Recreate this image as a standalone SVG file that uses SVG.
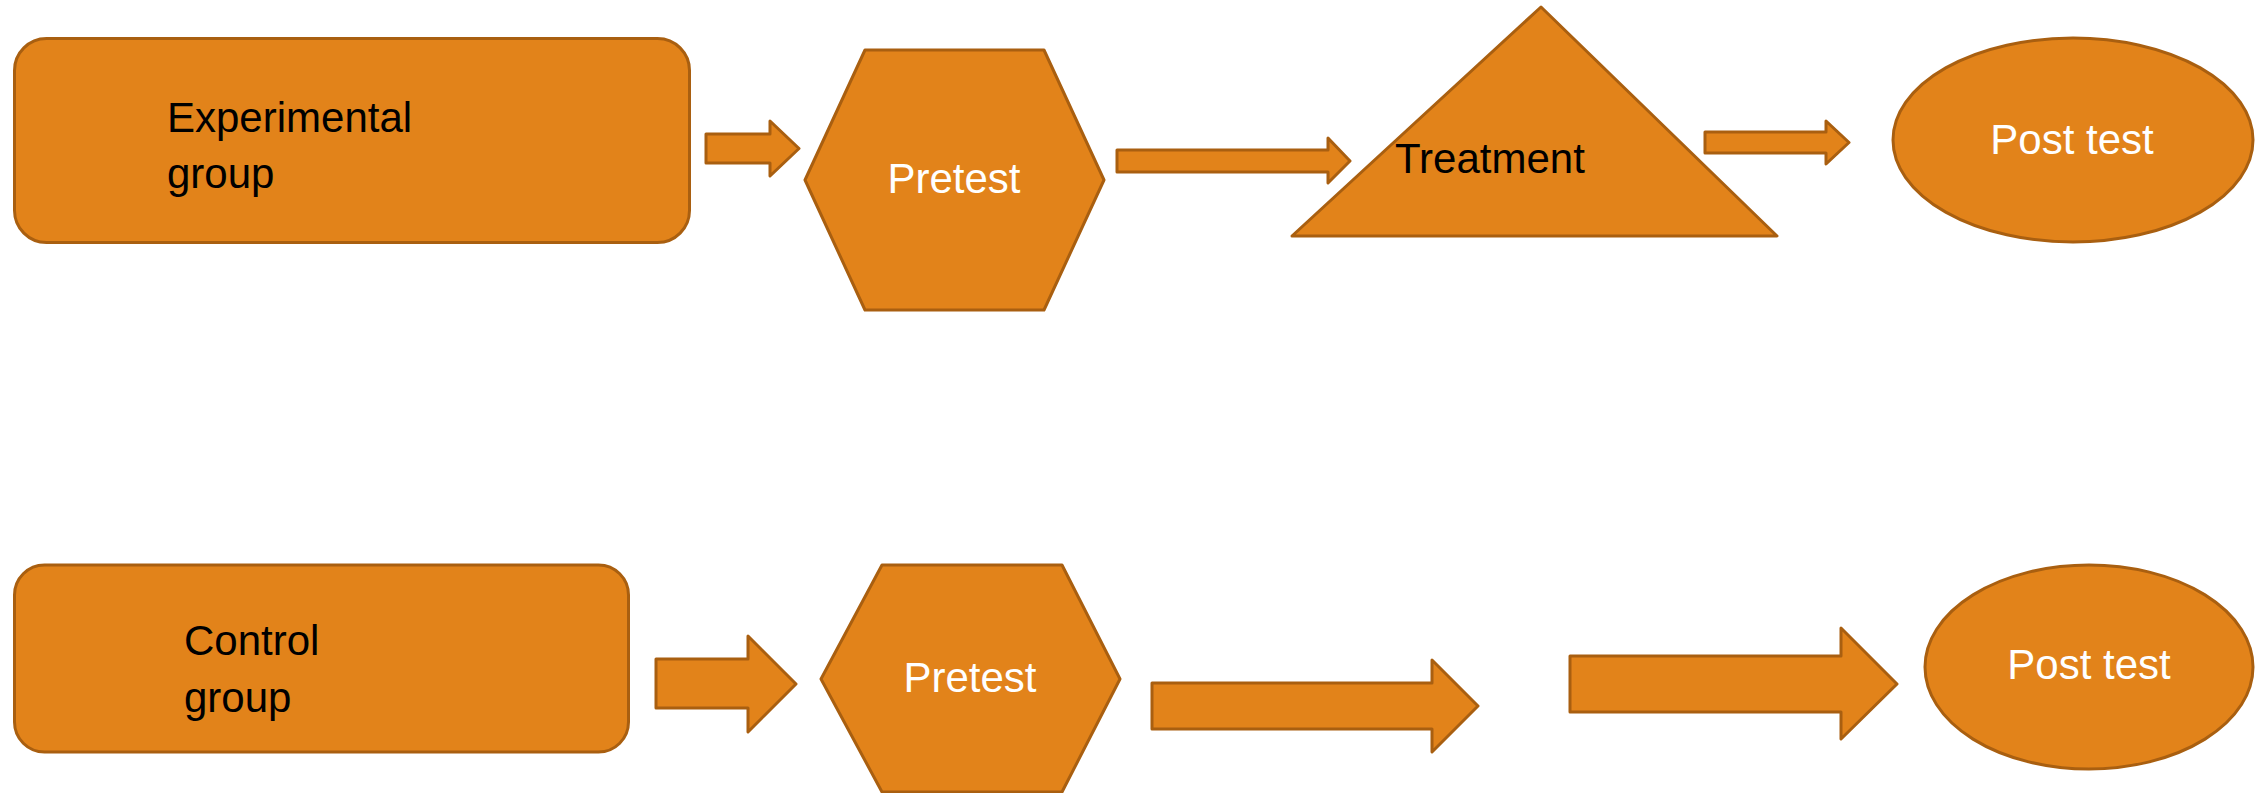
<svg xmlns="http://www.w3.org/2000/svg" width="2261" height="793" viewBox="0 0 2261 793">
<style>
.shape{fill:#E2831A;stroke:#A95F10;stroke-width:3;stroke-linejoin:round}
.dark{font-family:"Liberation Sans",Arial,sans-serif;font-size:42px;fill:#000}
.light{font-family:"Liberation Sans",Arial,sans-serif;font-size:42px;fill:#fff;text-anchor:middle}
</style>
<rect width="2261" height="793" fill="#fff"/>
<g id="experimental-group">
<rect class="shape" x="14.5" y="38.5" width="675" height="204" rx="32" ry="32"/>
<text class="dark" x="167" y="132">Experimental</text>
<text class="dark" x="167" y="188">group</text>
</g>
<g id="pretest-top">
<polygon class="shape" points="865,50 1044,50 1104,180 1044,310 865,310 805,180"/>
<text class="light" x="954" y="193">Pretest</text>
</g>
<g id="treatment">
<polygon class="shape" points="1541,7 1777,236 1292,236"/>
<text class="dark" x="1395" y="173">Treatment</text>
</g>
<g id="posttest-top">
<ellipse class="shape" cx="2073" cy="140" rx="180" ry="102"/>
<text class="light" x="2072" y="154">Post test</text>
</g>
<g id="control-group">
<rect class="shape" x="14.5" y="565" width="614" height="187" rx="30" ry="30"/>
<text class="dark" x="184" y="655">Control</text>
<text class="dark" x="184" y="712">group</text>
</g>
<g id="pretest-bottom">
<polygon class="shape" points="882,565 1062,565 1120,679 1062,792 882,792 821,679"/>
<text class="light" x="970" y="692">Pretest</text>
</g>
<g id="posttest-bottom">
<ellipse class="shape" cx="2089" cy="667" rx="164" ry="102"/>
<text class="light" x="2089" y="679">Post test</text>
</g>
<g id="connectors">
<polygon class="shape" points="706,134 770,134 770,121 799,148.5 770,176 770,163 706,163"/>
<polygon class="shape" points="1117,150 1328,150 1328,138 1350,161 1328,183 1328,172 1117,172"/>
<polygon class="shape" points="1705,132 1826,132 1826,121 1849,142.5 1826,164 1826,153 1705,153"/>
<polygon class="shape" points="656,659 748,659 748,636 796,684 748,732 748,708 656,708"/>
<polygon class="shape" points="1152,683 1432,683 1432,660 1478,706 1432,752 1432,729 1152,729"/>
<polygon class="shape" points="1570,656 1841,656 1841,628 1897,684 1841,739 1841,712 1570,712"/>
</g>
</svg>
